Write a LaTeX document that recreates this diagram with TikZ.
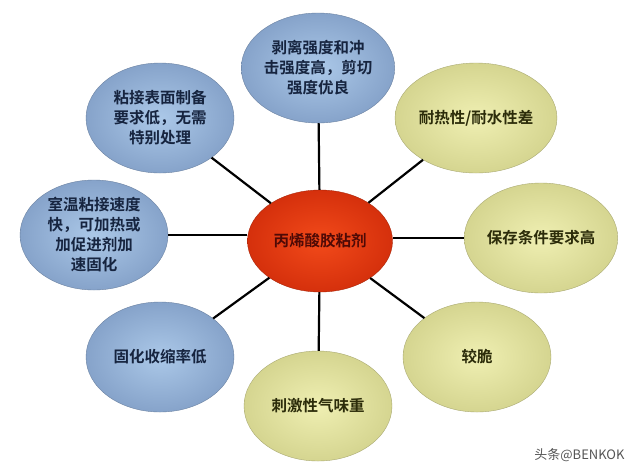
\documentclass[tikz,border=0pt]{standalone}
\usepackage{fontspec}
\newfontfamily\cjk{Noto Sans CJK SC}[BoldFont={Noto Sans CJK SC Bold}]
\usetikzlibrary{shapes.geometric}
\definecolor{bluein}{HTML}{ABC8E8}
\definecolor{blueout}{HTML}{86A3CA}
\definecolor{bluetext}{HTML}{16243F}
\definecolor{yelin}{HTML}{EFEFB2}
\definecolor{yelout}{HTML}{D5D590}
\definecolor{yeltext}{HTML}{2C2C0A}
\definecolor{redin}{HTML}{F24A1A}
\definecolor{redout}{HTML}{D5300C}
\definecolor{redtext}{HTML}{4E0A06}
\definecolor{marktext}{HTML}{555555}
\tikzset{
  bubble/.style={ellipse, minimum width=148pt, minimum height=110pt, inner sep=0pt,
    align=center, font=\cjk\bfseries\fontsize{15.5}{20}\selectfont},
  bluebub/.style={bubble, shading=radial, inner color=bluein, outer color=blueout,
    draw=blueout!80!black, line width=0.4pt, text=bluetext},
  yelbub/.style={bubble, shading=radial, inner color=yelin, outer color=yelout,
    draw=yelout!80!black, line width=0.4pt, text=yeltext},
  hubbub/.style={bubble, minimum width=145pt, minimum height=102pt, shading=radial,
    inner color=redin, outer color=redout, draw=redout!80!black, line width=0.4pt, text=redtext},
  link/.style={line width=2.2pt, black}
}
\begin{document}
\begin{tikzpicture}[x=1pt,y=-1pt]
\useasboundingbox[fill=white] (0,0) rectangle (640,475);
\node[hubbub] (c) at (320,241) {丙烯酸胶粘剂};
\node[bluebub] (t) at (318,68) {剥离强度和冲\\击强度高，剪切\\强度优良};
\node[bluebub] (ul) at (160,118) {粘接表面制备\\要求低，无需\\特别处理};
\node[bluebub] (l) at (94,235) {室温粘接速度\\快，可加热或\\加促进剂加\\速固化};
\node[bluebub] (ll) at (160,357) {固化收缩率低};
\node[yelbub] (b) at (318,406) {刺激性气味重};
\node[yelbub] (lr) at (477,357) {较脆};
\node[yelbub] (r) at (541,238) {保存条件要求高};
\node[yelbub] (ur) at (476,118) {耐热性/耐水性差};
\draw[link] (c) -- (t);
\draw[link] (c) -- (ul);
\draw[link] (c.west |- l) -- (l);
\draw[link] (c) -- (ll);
\draw[link] (c) -- (b);
\draw[link] (c) -- (lr);
\draw[link] (c.east |- r) -- (r);
\draw[link] (c) -- (ur);
\node[font=\cjk\fontsize{13}{15}\selectfont, text=marktext, anchor=east] (wm) at (628,455) {头条@BENKOK};
\end{tikzpicture}
\end{document}
